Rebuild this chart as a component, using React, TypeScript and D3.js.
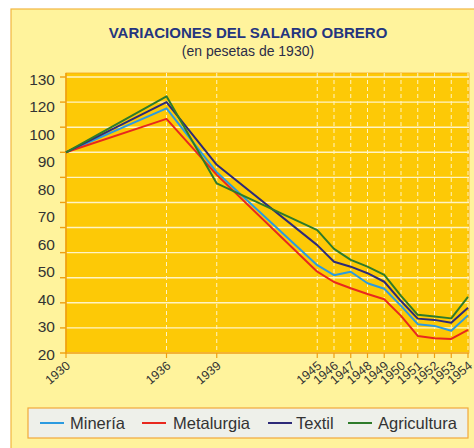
import React from 'react';
import * as d3 from 'd3';

// años del eje X (escala lineal de tiempo)
const years = [1930, 1936, 1939, 1945, 1946, 1947, 1948, 1949, 1950, 1951, 1952, 1953, 1954];

// índice 1930 = 100, leído contra las líneas de la cuadrícula
const mineria = [100, 117.5, 92, 55, 51, 52.4, 47.8, 45.6, 38.8, 31.5, 30.8, 28.9, 35];
const metalurgia = [100, 113.3, 91, 52.4, 48.3, 45.8, 43.5, 41.4, 34.8, 26.8, 25.9, 25.6, 29.2];
const textil = [100, 120, 95, 63, 56.4, 54.4, 51.8, 48.4, 40.7, 33.7, 33.2, 32.1, 38];
const agricultura = [100, 122.3, 87.6, 69, 61.5, 57.1, 54.4, 51.1, 42.8, 35.2, 34.5, 33.8, 42.4];

// etiquetas del eje Y tal como aparecen impresas (espaciadas por igual)
const yTickLabels = ['130', '120', '100', '90', '80', '70', '60', '50', '40', '30', '20'];

const seriesNames = ['Minería', 'Metalurgia', 'Textil', 'Agricultura'];
const seriesColors = ['#2b9be0', '#e8281e', '#2d2a78', '#2e7b2a'];

const W = 474;
const H = 448;
const plot = { left: 66, right: 469, top: 73, bottom: 353 };

export default function App() {
  const series = [mineria, metalurgia, textil, agricultura];

  const x = d3.scaleLinear().domain([1930, 1954]).range([plot.left, 468]);
  const y = d3.scaleLinear().domain([20, 130]).range([plot.bottom, 77]);
  const yLab = d3.scalePoint<string>().domain(yTickLabels).range([79, 354]);

  const gridVals = d3.range(20, 131, 10);

  const line = d3.line<number>()
    .x((_, i) => x(years[i]))
    .y(d => y(d));

  // posiciones de la leyenda
  const legendItems = [
    { lx: 40, tx: 70 },
    { lx: 142, tx: 173 },
    { lx: 268, tx: 296 },
    { lx: 348, tx: 378 },
  ];

  return (
    <svg width={W} height={H} style={{ position: 'absolute', left: 0, top: 0 }}
      fontFamily="'Liberation Sans', Arial, sans-serif">
      <rect x={0} y={0} width={W} height={H} fill="#ffffff" />
      <rect x={11} y={9} width={W + 10} height={H + 10} fill="#fff39c" stroke="#f2b640" strokeWidth={1.2} />

      <text x={248} y={38} textAnchor="middle" fontSize={15} fontWeight="bold" fill="#24357f">
        VARIACIONES DEL SALARIO OBRERO
      </text>
      <text x={248} y={56} textAnchor="middle" fontSize={14} fill="#2c2c48">
        (en pesetas de 1930)
      </text>

      {/* área del gráfico */}
      <rect x={plot.left} y={plot.top} width={plot.right - plot.left} height={plot.bottom - plot.top}
        fill="#fdc906" stroke="#f5a61c" strokeWidth={0.8} />

      {gridVals.map(v => (
        <line key={'h' + v} x1={plot.left} x2={plot.right} y1={y(v)} y2={y(v)}
          stroke="#fff4c4" strokeWidth={1.4} />
      ))}
      {years.slice(1).map(yr => (
        <line key={'v' + yr} x1={x(yr)} x2={x(yr)} y1={plot.top} y2={plot.bottom}
          stroke="#fff4c4" strokeWidth={1} strokeDasharray="4,3" />
      ))}

      {/* ejes */}
      <line x1={plot.left} x2={plot.left} y1={plot.top} y2={plot.bottom + 0.5} stroke="#f0a010" strokeWidth={1.6} />
      <line x1={plot.left} x2={plot.right} y1={plot.bottom} y2={plot.bottom} stroke="#f0a010" strokeWidth={1.6} />
      {gridVals.map(v => (
        <line key={'yt' + v} x1={60} x2={plot.left} y1={y(v)} y2={y(v)} stroke="#f0a010" strokeWidth={1.4} />
      ))}
      {years.map(yr => (
        <line key={'xt' + yr} x1={x(yr)} x2={x(yr)} y1={plot.bottom} y2={plot.bottom + 5} stroke="#f0a010" strokeWidth={1.2} />
      ))}

      {yTickLabels.map(l => (
        <text key={'yl' + l} x={55} y={yLab(l)} dy="0.36em" textAnchor="end" fontSize={15.5} fill="#333333">
          {l}
        </text>
      ))}
      {years.map(yr => (
        <text key={'xl' + yr} transform={`translate(${x(yr) + 5},${plot.bottom + 14}) rotate(-40)`}
          textAnchor="end" fontSize={12.5} fill="#333333">
          {yr}
        </text>
      ))}

      {series.map((s, i) => (
        <path key={seriesNames[i]} d={line(s) || ''} fill="none" stroke={seriesColors[i]}
          strokeWidth={2} strokeLinejoin="round" />
      ))}

      {/* leyenda */}
      <rect x={28} y={408} width={440} height={30} fill="#eef0ea" stroke="#f2a93a" strokeWidth={1.2} />
      {seriesNames.map((n, i) => (
        <g key={'lg' + n}>
          <line x1={legendItems[i].lx} x2={legendItems[i].lx + 24} y1={423} y2={423}
            stroke={seriesColors[i]} strokeWidth={2} />
          <text x={legendItems[i].tx} y={429} fontSize={16.5} fill="#333333">{n}</text>
        </g>
      ))}
    </svg>
  );
}
